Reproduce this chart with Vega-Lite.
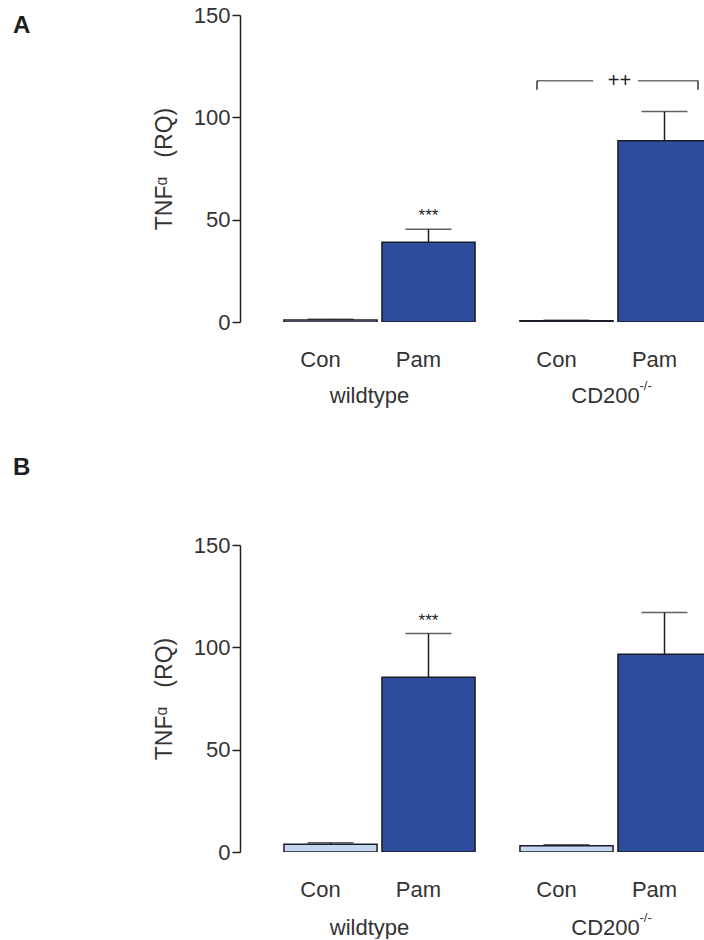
{
  "$schema": "https://vega.github.io/schema/vega-lite/v6.json",
  "background": "white",
  "padding": {"left": 13, "top": 4, "right": 0, "bottom": 0},
  "config": {
    "view": {"stroke": null},
    "font": "Liberation Sans",
    "axis": {"labelFont": "Liberation Sans", "titleFont": "Liberation Sans"}
  },
  "datasets": {
    "a": [
      {"genotype": "wildtype", "treatment": "Con", "mean": 1.0, "upper": 1.3},
      {"genotype": "wildtype", "treatment": "Pam", "mean": 39.0, "upper": 45.3},
      {"genotype": "CD200", "treatment": "Con", "mean": 0.6, "upper": 0.8},
      {"genotype": "CD200", "treatment": "Pam", "mean": 88.6, "upper": 102.8}
    ],
    "b": [
      {"genotype": "wildtype", "treatment": "Con", "mean": 3.8, "upper": 4.5},
      {"genotype": "wildtype", "treatment": "Pam", "mean": 85.4, "upper": 106.7},
      {"genotype": "CD200", "treatment": "Con", "mean": 3.0, "upper": 3.5},
      {"genotype": "CD200", "treatment": "Pam", "mean": 96.6, "upper": 117.0}
    ],
    "groups": [
      {"genotype": "wildtype", "label": "wildtype"},
      {"genotype": "CD200", "label": "CD200"}
    ],
    "sups": [
      {"genotype": "CD200", "sup": "-/-"}
    ],
    "starsA": [{"genotype": "wildtype", "treatment": "Pam", "y": 45.3, "label": "***"}],
    "starsB": [{"genotype": "wildtype", "treatment": "Pam", "y": 106.7, "label": "***"}],
    "bracketA": [{"genotype": "CD200", "y": 117.9, "yend": 113.5, "label": "++"}]
  },
  "spacing": 49,
  "vconcat": [
    {
      "width": 464,
      "height": 307,
      "title": {"text": "A", "anchor": "start", "frame": "group", "dx": -227, "offset": -53, "baseline": "alphabetic", "fontSize": 24, "fontWeight": "bold", "color": "#1e1e1e", "font": "Liberation Sans"},
      "encoding": {
        "x": {"field": "genotype", "type": "nominal", "sort": ["wildtype", "CD200"], "axis": null,
              "scale": {"domain": ["wildtype", "CD200"], "range": [41.5, 473.5], "paddingInner": 0.1695, "paddingOuter": 0}}
      },
      "layer": [
        {
          "data": {"name": "a"},
          "mark": {"type": "bar", "stroke": "#1c1c28", "strokeWidth": 1.5, "clip": true},
          "encoding": {
            "xOffset": {"field": "treatment", "type": "nominal", "scale": {"domain": ["Con", "Pam"], "paddingInner": 0.05, "paddingOuter": 0.025}},
            "y": {"field": "mean", "type": "quantitative", "scale": {"domain": [0, 150], "nice": false},
                  "axis": {"values": [0, 50, 100, 150], "title": "TNFᵅ\u00a0\u00a0\u00a0(RQ)", "grid": false, "domainColor": "#222", "domainWidth": 1.5, "tickColor": "#222", "tickWidth": 1.5, "tickSize": 8, "labelFontSize": 22, "labelColor": "#333", "labelPadding": 2, "titleFontSize": 23, "titleFontWeight": "normal", "titleColor": "#333", "titlePadding": 17}},
            "color": {"field": "treatment", "type": "nominal", "scale": {"domain": ["Con", "Pam"], "range": ["#c5d6ee", "#2e4c9c"]}, "legend": null}
          }
        },
        {
          "data": {"name": "a"},
          "mark": {"type": "rule", "color": "#1c1c28", "strokeWidth": 1.5},
          "encoding": {
            "xOffset": {"field": "treatment", "type": "nominal"},
            "y": {"field": "mean", "type": "quantitative"},
            "y2": {"field": "upper"}
          }
        },
        {
          "data": {"name": "a"},
          "mark": {"type": "tick", "orient": "horizontal", "size": 46, "thickness": 1.5, "color": "#1c1c28"},
          "encoding": {
            "xOffset": {"field": "treatment", "type": "nominal"},
            "y": {"field": "upper", "type": "quantitative"}
          }
        },
        {
          "data": {"name": "a"},
          "mark": {"type": "text", "fontSize": 22, "color": "#333", "dy": 45, "dx": -10, "baseline": "alphabetic"},
          "encoding": {
            "xOffset": {"field": "treatment", "type": "nominal"},
            "y": {"datum": 0, "type": "quantitative"},
            "text": {"field": "treatment"}
          }
        },
        {
          "data": {"name": "groups"},
          "mark": {"type": "text", "fontSize": 22, "color": "#333", "dy": 81, "dx": -10, "baseline": "alphabetic"},
          "encoding": {
            "y": {"datum": 0, "type": "quantitative"},
            "text": {"field": "label"}
          }
        },
        {
          "data": {"name": "sups"},
          "mark": {"type": "text", "fontSize": 13, "color": "#333", "dy": 68, "dx": 24, "align": "left", "baseline": "alphabetic"},
          "encoding": {
            "y": {"datum": 0, "type": "quantitative"},
            "text": {"field": "sup"}
          }
        },
        {
          "data": {"name": "starsA"},
          "mark": {"type": "text", "fontSize": 17, "color": "#222", "dy": -4, "baseline": "bottom"},
          "encoding": {
            "xOffset": {"field": "treatment", "type": "nominal"},
            "y": {"field": "y", "type": "quantitative"},
            "text": {"field": "label"}
          }
        },
        {
          "data": {"name": "bracketA"},
          "mark": {"type": "text", "fontSize": 20, "color": "#222", "baseline": "middle", "dx": 4},
          "encoding": {
            "y": {"field": "y", "type": "quantitative"},
            "text": {"field": "label"}
          }
        },
        {
          "data": {"name": "bracketA"},
          "mark": {"type": "tick", "orient": "horizontal", "size": 56, "thickness": 1.5, "color": "#333", "xOffset": -50.5},
          "encoding": {"y": {"field": "y", "type": "quantitative"}}
        },
        {
          "data": {"name": "bracketA"},
          "mark": {"type": "tick", "orient": "horizontal", "size": 60, "thickness": 1.5, "color": "#333", "xOffset": 52.5},
          "encoding": {"y": {"field": "y", "type": "quantitative"}}
        },
        {
          "data": {"name": "bracketA"},
          "mark": {"type": "rule", "strokeWidth": 1.5, "color": "#333", "xOffset": -78.5},
          "encoding": {"y": {"field": "y", "type": "quantitative"}, "y2": {"field": "yend"}}
        },
        {
          "data": {"name": "bracketA"},
          "mark": {"type": "rule", "strokeWidth": 1.5, "color": "#333", "xOffset": 82.5},
          "encoding": {"y": {"field": "y", "type": "quantitative"}, "y2": {"field": "yend"}}
        }
      ]
    },
    {
      "width": 464,
      "height": 307,
      "title": {"text": "B", "anchor": "start", "frame": "group", "dx": -227, "offset": 35, "baseline": "alphabetic", "fontSize": 24, "fontWeight": "bold", "color": "#1e1e1e", "font": "Liberation Sans"},
      "encoding": {
        "x": {"field": "genotype", "type": "nominal", "sort": ["wildtype", "CD200"], "axis": null,
              "scale": {"domain": ["wildtype", "CD200"], "range": [41.5, 473.5], "paddingInner": 0.1695, "paddingOuter": 0}}
      },
      "layer": [
        {
          "data": {"name": "b"},
          "mark": {"type": "bar", "stroke": "#1c1c28", "strokeWidth": 1.5, "clip": true},
          "encoding": {
            "xOffset": {"field": "treatment", "type": "nominal", "scale": {"domain": ["Con", "Pam"], "paddingInner": 0.05, "paddingOuter": 0.025}},
            "y": {"field": "mean", "type": "quantitative", "scale": {"domain": [0, 150], "nice": false},
                  "axis": {"values": [0, 50, 100, 150], "title": "TNFᵅ\u00a0\u00a0\u00a0(RQ)", "grid": false, "domainColor": "#222", "domainWidth": 1.5, "tickColor": "#222", "tickWidth": 1.5, "tickSize": 8, "labelFontSize": 22, "labelColor": "#333", "labelPadding": 2, "titleFontSize": 23, "titleFontWeight": "normal", "titleColor": "#333", "titlePadding": 17}},
            "color": {"field": "treatment", "type": "nominal", "scale": {"domain": ["Con", "Pam"], "range": ["#c5d6ee", "#2e4c9c"]}, "legend": null}
          }
        },
        {
          "data": {"name": "b"},
          "mark": {"type": "rule", "color": "#1c1c28", "strokeWidth": 1.5},
          "encoding": {
            "xOffset": {"field": "treatment", "type": "nominal"},
            "y": {"field": "mean", "type": "quantitative"},
            "y2": {"field": "upper"}
          }
        },
        {
          "data": {"name": "b"},
          "mark": {"type": "tick", "orient": "horizontal", "size": 46, "thickness": 1.5, "color": "#1c1c28"},
          "encoding": {
            "xOffset": {"field": "treatment", "type": "nominal"},
            "y": {"field": "upper", "type": "quantitative"}
          }
        },
        {
          "data": {"name": "b"},
          "mark": {"type": "text", "fontSize": 22, "color": "#333", "dy": 45, "dx": -10, "baseline": "alphabetic"},
          "encoding": {
            "xOffset": {"field": "treatment", "type": "nominal"},
            "y": {"datum": 0, "type": "quantitative"},
            "text": {"field": "treatment"}
          }
        },
        {
          "data": {"name": "groups"},
          "mark": {"type": "text", "fontSize": 22, "color": "#333", "dy": 83, "dx": -10, "baseline": "alphabetic"},
          "encoding": {
            "y": {"datum": 0, "type": "quantitative"},
            "text": {"field": "label"}
          }
        },
        {
          "data": {"name": "sups"},
          "mark": {"type": "text", "fontSize": 13, "color": "#333", "dy": 70, "dx": 24, "align": "left", "baseline": "alphabetic"},
          "encoding": {
            "y": {"datum": 0, "type": "quantitative"},
            "text": {"field": "sup"}
          }
        },
        {
          "data": {"name": "starsB"},
          "mark": {"type": "text", "fontSize": 17, "color": "#222", "dy": -4, "baseline": "bottom"},
          "encoding": {
            "xOffset": {"field": "treatment", "type": "nominal"},
            "y": {"field": "y", "type": "quantitative"},
            "text": {"field": "label"}
          }
        }
      ]
    }
  ]
}
